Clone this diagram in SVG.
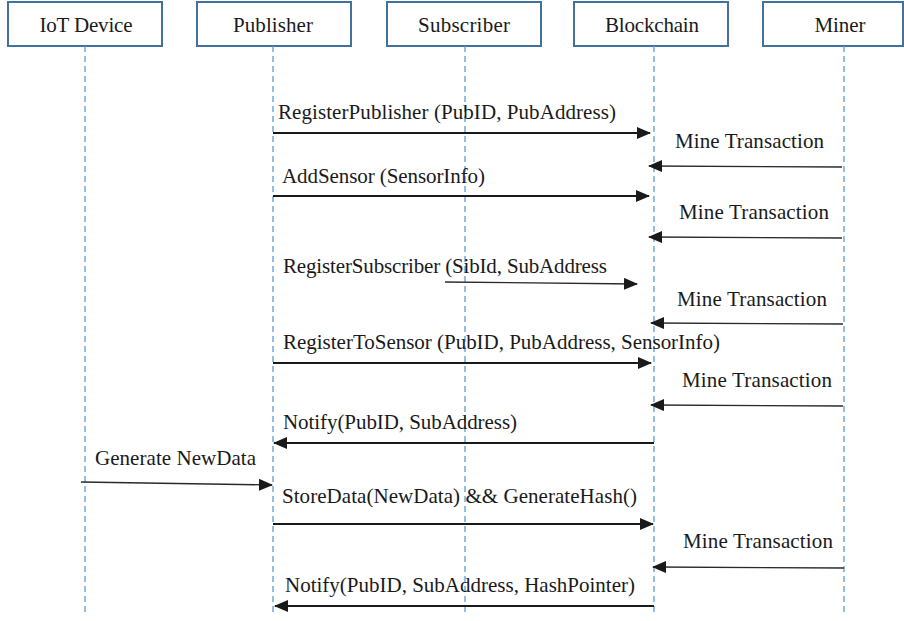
<svg xmlns="http://www.w3.org/2000/svg" width="904" height="621" viewBox="0 0 904 621" font-family="'Liberation Serif', 'Times New Roman', Times, serif">
<style>
  .box { fill: #ffffff; stroke: #41719c; stroke-width: 2; }
  .life { stroke: #5b9bd5; stroke-width: 1.3; stroke-dasharray: 6 4; fill: none; }
  text { font-family: 'Liberation Serif', 'Times New Roman', Times, serif; font-size: 21px; fill: #1a1a1a; }
  .c { text-anchor: middle; }
  .thick { stroke: #1a1a1a; stroke-width: 2; fill: none; }
  .thin { stroke: #2a2a2a; stroke-width: 1.3; fill: none; }
</style>
<defs>
  <marker id="ah" markerUnits="userSpaceOnUse" markerWidth="14" markerHeight="12" viewBox="0 0 14 12" refX="13" refY="6" orient="auto">
    <path d="M0,0 L14,6 L0,12 Z" fill="#1a1a1a"/>
  </marker>
</defs>

<g id="iot">
  <rect class="box" x="8" y="2" width="154" height="44"/>
  <text class="c" x="86" y="32" textLength="93">IoT Device</text>
  <line class="life" x1="85" y1="46" x2="85" y2="613"/>
</g>
<g id="publisher">
  <rect class="box" x="197" y="2" width="154" height="44"/>
  <text class="c" x="273" y="32" textLength="80">Publisher</text>
  <line class="life" x1="273" y1="46" x2="273" y2="613"/>
</g>
<g id="subscriber">
  <rect class="box" x="387" y="2" width="154" height="44"/>
  <text class="c" x="464" y="32" textLength="92">Subscriber</text>
  <line class="life" x1="465" y1="46" x2="465" y2="613"/>
</g>
<g id="blockchain">
  <rect class="box" x="574" y="2" width="154" height="44"/>
  <text class="c" x="652" y="32" textLength="94">Blockchain</text>
  <line class="life" x1="654" y1="46" x2="654" y2="613"/>
</g>
<g id="miner">
  <rect class="box" x="763" y="2" width="140" height="44"/>
  <text class="c" x="840" y="32" textLength="51">Miner</text>
  <line class="life" x1="844" y1="46" x2="844" y2="613"/>
</g>

<g id="connectors">
  <line class="thick" x1="273" y1="133" x2="650" y2="133" marker-end="url(#ah)"/>
  <text x="278" y="119" textLength="338">RegisterPublisher (PubID, PubAddress)</text>

  <line class="thin" x1="842" y1="167" x2="649" y2="166" marker-end="url(#ah)"/>
  <text x="675" y="148" textLength="149">Mine Transaction</text>

  <line class="thick" x1="273" y1="196" x2="649" y2="196" marker-end="url(#ah)"/>
  <text x="282" y="183" textLength="203">AddSensor (SensorInfo)</text>

  <line class="thin" x1="842" y1="238" x2="649" y2="237" marker-end="url(#ah)"/>
  <text x="679" y="219" textLength="150">Mine Transaction</text>

  <line class="thin" x1="445" y1="282" x2="637" y2="284" marker-end="url(#ah)"/>
  <text x="283" y="273" textLength="324">RegisterSubscriber (SibId, SubAddress</text>

  <line class="thin" x1="843" y1="324" x2="651" y2="323" marker-end="url(#ah)"/>
  <text x="677" y="306" textLength="150">Mine Transaction</text>

  <line class="thick" x1="273" y1="363" x2="651" y2="363" marker-end="url(#ah)"/>
  <text x="283" y="349" textLength="437">RegisterToSensor (PubID, PubAddress, SensorInfo)</text>

  <line class="thin" x1="843" y1="406" x2="651" y2="405" marker-end="url(#ah)"/>
  <text x="682" y="387" textLength="150">Mine Transaction</text>

  <line class="thick" x1="654" y1="443" x2="274" y2="443" marker-end="url(#ah)"/>
  <text x="283" y="429" textLength="234">Notify(PubID, SubAddress)</text>

  <line class="thin" x1="81" y1="482" x2="272" y2="485" marker-end="url(#ah)"/>
  <text x="95" y="465" textLength="161">Generate NewData</text>

  <line class="thick" x1="273" y1="524" x2="653" y2="524" marker-end="url(#ah)"/>
  <text x="282" y="503" textLength="355">StoreData(NewData) &amp;&amp; GenerateHash()</text>

  <line class="thin" x1="844" y1="568" x2="653" y2="567" marker-end="url(#ah)"/>
  <text x="683" y="548" textLength="150">Mine Transaction</text>

  <line class="thick" x1="654" y1="606" x2="275" y2="606" marker-end="url(#ah)"/>
  <text x="285" y="592" textLength="350">Notify(PubID, SubAddress, HashPointer)</text>
</g>
</svg>
